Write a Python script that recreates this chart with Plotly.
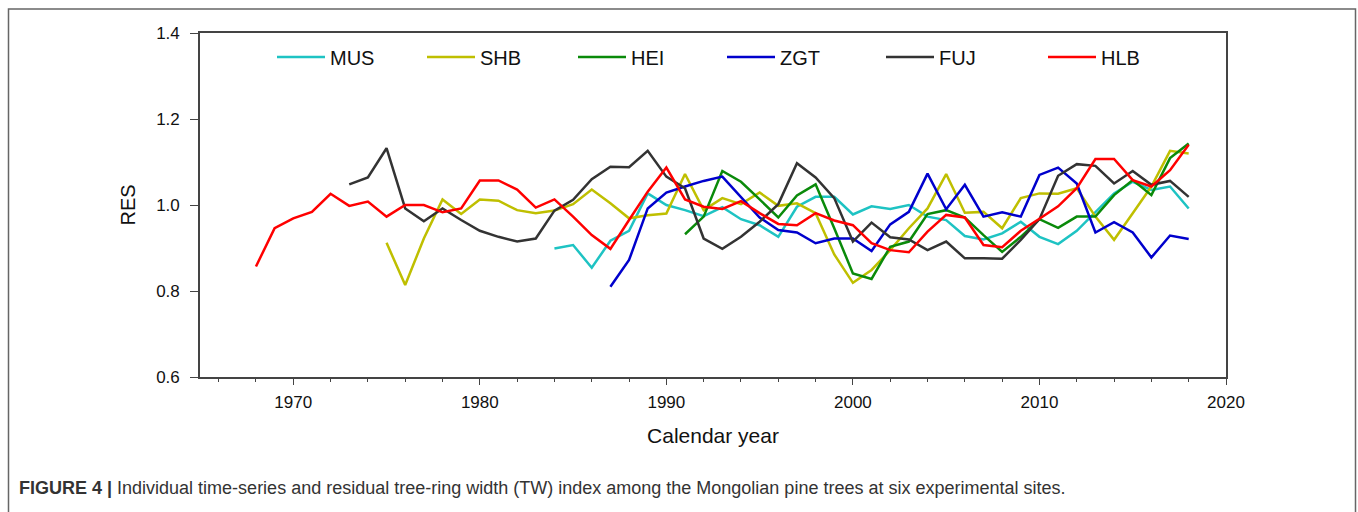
import plotly.graph_objects as go

# Residual tree-ring width (RES) chronologies for six Mongolian pine sites
MUS_years = list(range(1984, 2019))
MUS_res = [0.899, 0.907, 0.854, 0.917, 0.940, 1.027, 1.000, 0.988, 0.974, 0.995,
           0.967, 0.953, 0.926, 0.996, 1.019, 1.019, 0.978, 0.997, 0.991, 1.000,
           0.973, 0.965, 0.928, 0.920, 0.934, 0.961, 0.926, 0.909, 0.940, 0.984,
           1.027, 1.054, 1.035, 1.043, 0.992]

SHB_years = list(range(1975, 2019))
SHB_res = [0.912, 0.814, 0.922, 1.013, 0.979, 1.013, 1.010, 0.988, 0.981, 0.987,
           1.002, 1.036, 1.004, 0.969, 0.976, 0.980, 1.072, 0.988, 1.016, 1.002,
           1.029, 0.998, 1.004, 0.981, 0.885, 0.819, 0.849, 0.895, 0.946, 0.992,
           1.072, 0.982, 0.984, 0.946, 1.016, 1.027, 1.026, 1.039, 0.973, 0.919,
           0.981, 1.043, 1.126, 1.120]

HEI_years = list(range(1991, 2019))
HEI_res = [0.932, 0.973, 1.079, 1.054, 1.013, 0.971, 1.022, 1.048, 0.946, 0.841,
           0.828, 0.903, 0.915, 0.979, 0.988, 0.971, 0.930, 0.891, 0.926, 0.967,
           0.947, 0.973, 0.973, 1.023, 1.058, 1.023, 1.109, 1.143]

ZGT_years = list(range(1987, 2019))
ZGT_res = [0.810, 0.872, 0.992, 1.029, 1.043, 1.056, 1.066, 1.019, 0.971, 0.942,
           0.936, 0.911, 0.922, 0.922, 0.893, 0.955, 0.984, 1.073, 0.990, 1.047,
           0.973, 0.983, 0.973, 1.070, 1.087, 1.050, 0.936, 0.960, 0.936, 0.878,
           0.929, 0.921]

FUJ_years = list(range(1973, 2019))
FUJ_res = [1.048, 1.064, 1.132, 0.992, 0.962, 0.992, 0.965, 0.940, 0.926, 0.915,
           0.922, 0.987, 1.012, 1.060, 1.089, 1.088, 1.126, 1.066, 1.039, 0.922,
           0.898, 0.926, 0.961, 1.002, 1.097, 1.064, 1.016, 0.915, 0.959, 0.925,
           0.920, 0.895, 0.915, 0.876, 0.876, 0.875, 0.919, 0.967, 1.068, 1.095,
           1.091, 1.050, 1.079, 1.047, 1.056, 1.019]

HLB_years = list(range(1968, 2019))
HLB_res = [0.857, 0.946, 0.969, 0.984, 1.026, 0.998, 1.008, 0.973, 1.000, 1.000,
           0.983, 0.992, 1.057, 1.057, 1.036, 0.994, 1.013, 0.973, 0.930, 0.898,
           0.965, 1.031, 1.087, 1.013, 0.996, 0.991, 1.009, 0.981, 0.956, 0.953,
           0.981, 0.964, 0.953, 0.911, 0.895, 0.890, 0.938, 0.977, 0.971, 0.907,
           0.902, 0.940, 0.968, 0.997, 1.039, 1.107, 1.107, 1.058, 1.043, 1.081,
           1.140]

site_names = ["MUS", "SHB", "HEI", "ZGT", "FUJ", "HLB"]
site_years = [MUS_years, SHB_years, HEI_years, ZGT_years, FUJ_years, HLB_years]
site_values = [MUS_res, SHB_res, HEI_res, ZGT_res, FUJ_res, HLB_res]
site_colors = ["#1ec3c3", "#bfbf00", "#0a8a0a", "#0000cc", "#333333", "#ff0000"]

# horizontal start of each legend entry (pixels in the page)
legend_px = [272, 422, 573, 722, 881, 1043]

W, H = 1358, 512
L, R, T, B = 200, 132, 33, 135
plot_w = W - L - R
plot_h = H - T - B


def px_to_paper_x(px):
    return (px - L) / plot_w


def py_to_paper_y(py):
    return (H - B - py) / plot_h


FONT = "Liberation Sans, Arial, Helvetica, sans-serif"

fig = go.Figure()
layout_legends = {}
for i, (name, yrs, vals, col) in enumerate(zip(site_names, site_years, site_values, site_colors)):
    key = "legend" if i == 0 else f"legend{i + 1}"
    fig.add_trace(go.Scatter(
        x=yrs, y=vals, name=name, mode="lines",
        line=dict(color=col, width=2.5),
        legend=key,
    ))
    layout_legends[key] = dict(
        x=px_to_paper_x(legend_px[i]), xanchor="left",
        y=py_to_paper_y(57), yanchor="middle",
        orientation="h",
        bgcolor="rgba(0,0,0,0)",
        font=dict(family=FONT, size=20, color="#111111"),
        itemwidth=48,
        borderwidth=0,
    )

fig.update_layout(**layout_legends)

fig.update_layout(
    width=W, height=H,
    margin=dict(l=L, r=R, t=T, b=B, pad=0),
    paper_bgcolor="white",
    plot_bgcolor="white",
    showlegend=True,
    font=dict(family=FONT, color="#111111"),
    xaxis=dict(
        range=[1965, 2020],
        tickmode="linear", tick0=1970, dtick=10,
        ticks="outside", ticklen=6, tickwidth=1.3, tickcolor="#444444",
        minor=dict(tickmode="linear", tick0=1966, dtick=2, ticks="outside",
                   ticklen=3, tickwidth=1.1, tickcolor="#444444", showgrid=False),
        showline=True, linecolor="#444444", linewidth=1.6, mirror=True,
        showgrid=False, zeroline=False,
        tickfont=dict(family=FONT, size=17, color="#111111"),
        ticklabelstandoff=3,
        title=dict(text="Calendar year", font=dict(family=FONT, size=21, color="#111111"),
                   standoff=17),
    ),
    yaxis=dict(
        range=[0.6, 1.4],
        tickmode="linear", tick0=0.6, dtick=0.2, tickformat=".1f",
        ticks="outside", ticklen=8, tickwidth=1.3, tickcolor="#444444",
        showline=True, linecolor="#444444", linewidth=1.6, mirror=True,
        showgrid=False, zeroline=False,
        tickfont=dict(family=FONT, size=17, color="#111111"),
        ticklabelstandoff=7,
        title=dict(text="RES", font=dict(family=FONT, size=20, color="#111111"),
                   standoff=15),
    ),
)

# frame around the whole figure panel
fig.add_shape(
    type="rect", xref="paper", yref="paper",
    x0=px_to_paper_x(8.5), x1=px_to_paper_x(1355.5),
    y0=py_to_paper_y(530), y1=py_to_paper_y(9),
    line=dict(color="#666666", width=1.5), fillcolor="rgba(0,0,0,0)",
    layer="below",
)

# figure caption
fig.add_annotation(
    xref="paper", yref="paper",
    x=px_to_paper_x(17), y=py_to_paper_y(488),
    xanchor="left", yanchor="middle", showarrow=False,
    text="<b>FIGURE 4 |</b> Individual time-series and residual tree-ring width (TW) index "
         "among the Mongolian pine trees at six experimental sites.",
    font=dict(family=FONT, size=18, color="#333333"),
)

fig.write_html("out.html")
